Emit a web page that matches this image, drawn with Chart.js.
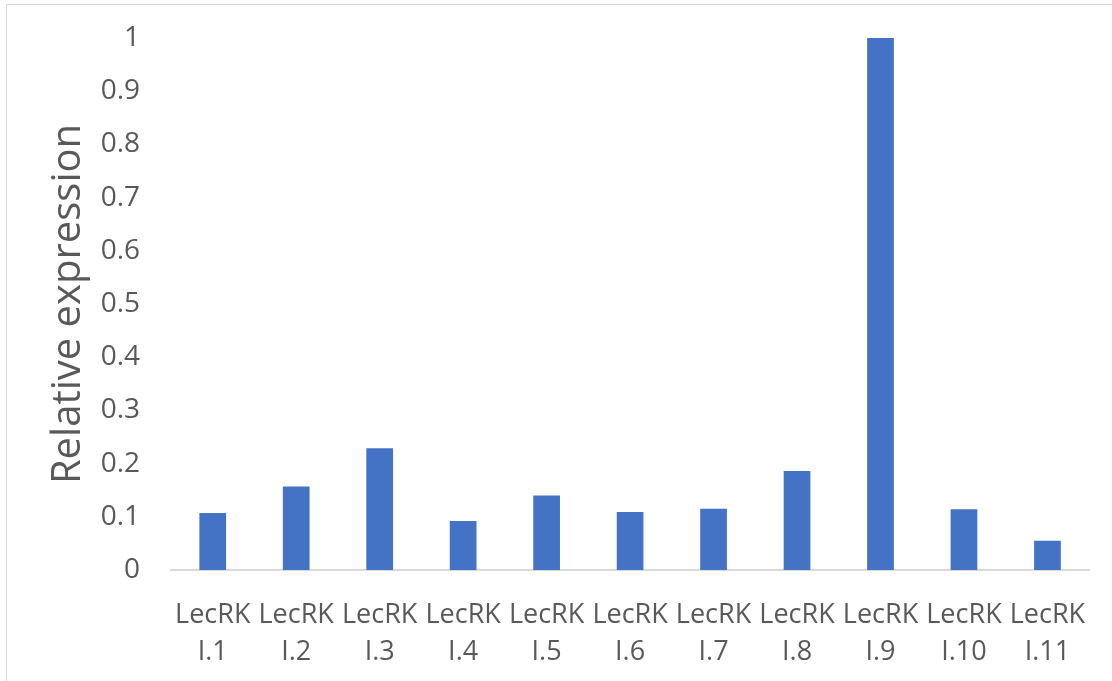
<!DOCTYPE html>
<html lang="en">
<head>
    <meta charset="UTF-8">
    <title>Relative expression</title>
    <style>
        body{
            margin: 0;
            width: 1112px;
            height: 681px;
            overflow: hidden;
            background: #fff;
            position: relative;
        }
        .frame{
            position: absolute;
            left: 6px;
            top: 4px;
            width: 1200px;
            height: 800px;
            border: 1.5px solid #d9d9d9;
        }
        .chart-item{
            position: absolute;
            left: 0;
            top: 0;
            width: 1112px;
            height: 681px;
        }
    </style>
</head>
<body>
    <div class="frame"></div>
    <div class="chart-item">
        <canvas id="mychart"></canvas>
    </div>

    <script src="https://cdn.jsdelivr.net/npm/chart.js@4/dist/chart.umd.min.js"></script>
    <script>
        // genes on the x axis (two-line labels)
        const genes = ['I.1', 'I.2', 'I.3', 'I.4', 'I.5', 'I.6', 'I.7', 'I.8', 'I.9', 'I.10', 'I.11'];
        const expression = [0.107, 0.157, 0.229, 0.092, 0.140, 0.109, 0.115, 0.186, 1.0, 0.114, 0.055];
        const yTicks = [0, 0.1, 0.2, 0.3, 0.4, 0.5, 0.6, 0.7, 0.8, 0.9, 1];

        const labels = genes.map(g => ['LecRK', g]);
        const textColor = '#595959';
        const fontName = '"Open Sans", sans-serif';

        new Chart(document.getElementById('mychart'), {
            type: 'bar',
            data: {
                labels: labels,
                datasets: [{
                    label: 'Relative expression',
                    data: expression,
                    backgroundColor: '#4472c4',
                    borderWidth: 0,
                    barPercentage: 0.32,
                    categoryPercentage: 1
                }]
            },
            options: {
                responsive: true,
                maintainAspectRatio: false,
                animation: false,
                layout: {
                    padding: {left: 45, right: 19, top: 38, bottom: 0}
                },
                plugins: {
                    legend: {display: false},
                    tooltip: {enabled: false}
                },
                scales: {
                    x: {
                        afterFit: axis => { axis.height = 111; },
                        grid: {display: false, drawTicks: false},
                        border: {display: true, color: '#d9d9d9', width: 2},
                        ticks: {
                            color: textColor,
                            font: {family: fontName, size: 27, lineHeight: 1.4},
                            padding: 26,
                            maxRotation: 0,
                            autoSkip: false
                        }
                    },
                    y: {
                        min: 0,
                        max: 1,
                        afterBuildTicks: axis => {
                            axis.ticks = yTicks.map(v => ({value: v}));
                        },
                        // fixed axis box; tick padding shouldn't push the plot down
                        afterFit: axis => {
                            axis.width = 126;
                            axis.paddingTop = 0;
                            axis.paddingBottom = 0;
                        },
                        grid: {display: false, drawTicks: false},
                        border: {display: false},
                        ticks: {
                            color: textColor,
                            font: {family: fontName, size: 28},
                            padding: 31,
                            callback: v => String(Math.round(v * 10) / 10)
                        },
                        title: {
                            display: true,
                            text: 'Relative expression',
                            color: textColor,
                            font: {family: fontName, size: 40},
                            padding: {top: 0, bottom: 0}
                        }
                    }
                }
            }
        });
    </script>
</body>
</html>
